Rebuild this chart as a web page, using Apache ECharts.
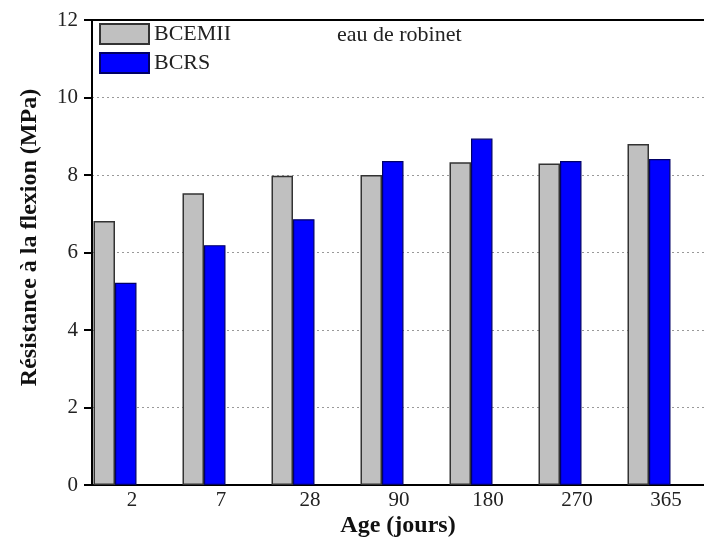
<!DOCTYPE html>
<html>
<head>
<meta charset="utf-8">
<script src="https://cdn.jsdelivr.net/npm/echarts@6/dist/echarts.min.js"></script>
<style>
html, body { margin: 0; padding: 0; background: #fff; }
#chart { width: 704px; height: 545px; }
</style>
</head>
<body>
<div id="chart"></div>
<script>
// donnees
var ages = ['2', '7', '28', '90', '180', '270', '365'];
var bcemii = [6.81, 7.53, 7.98, 8.00, 8.33, 8.30, 8.80];
var bcrs = [5.22, 6.19, 6.86, 8.36, 8.94, 8.36, 8.41];
var yMin = 0, yMax = 12, yStep = 2;

var serif = '"Liberation Serif", "Times New Roman", serif';
var chart = echarts.init(document.getElementById('chart'));

var option = {
    animation: false,
    title: {
        text: 'eau de robinet',
        left: 332,
        top: 19,
        textStyle: { fontFamily: serif, fontSize: 22, fontWeight: 'normal', color: '#222' }
    },
    legend: {
        orient: 'vertical',
        left: 94,
        top: 18,
        itemWidth: 49,
        itemHeight: 20,
        itemGap: 7,
        icon: 'rect',
        textStyle: { fontFamily: serif, fontSize: 22, color: '#222' },
        data: ['BCEMII', 'BCRS']
    },
    grid: [
        // grille des barres (bandes de categories)
        { left: 70.5, width: 623, top: 20, bottom: 60 },
        // cadre : axes, graduations, quadrillage
        { left: 92, right: 0, top: 20, bottom: 60 }
    ],
    xAxis: [
        {
            gridIndex: 0,
            type: 'category',
            data: ages,
            axisLine: { show: false },
            axisTick: { show: false },
            axisLabel: {
                fontFamily: serif, fontSize: 21, color: '#222',
                margin: 5, padding: [0, 0, 0, 34]
            }
        },
        {
            gridIndex: 1,
            type: 'value',
            min: 0, max: 1,
            axisLine: { lineStyle: { color: '#000', width: 2 } },
            axisTick: { show: false },
            axisLabel: { show: false },
            splitLine: { show: false },
            name: 'Age (jours)',
            nameLocation: 'middle',
            nameGap: 29,
            nameTextStyle: { fontFamily: serif, fontSize: 24, fontWeight: 'bold', color: '#111' }
        },
        {
            gridIndex: 1,
            type: 'value',
            position: 'top',
            min: 0, max: 1,
            axisLine: { lineStyle: { color: '#000', width: 2 } },
            axisTick: { show: false },
            axisLabel: { show: false },
            splitLine: { show: false }
        }
    ],
    yAxis: [
        { gridIndex: 0, type: 'value', min: yMin, max: yMax, interval: yStep, show: false },
        {
            gridIndex: 1,
            type: 'value',
            min: yMin, max: yMax, interval: yStep,
            axisLine: { show: true, lineStyle: { color: '#000', width: 2 } },
            axisTick: { show: true, length: 8, lineStyle: { color: '#000', width: 2 } },
            axisLabel: { fontFamily: serif, fontSize: 21, color: '#222', margin: 14 },
            splitLine: { lineStyle: { color: '#999', type: [2, 3], width: 1 } },
            name: 'Résistance à la flexion (MPa)',
            nameLocation: 'middle',
            nameGap: 50,
            nameTextStyle: {
                fontFamily: serif, fontSize: 24, fontWeight: 'bold', color: '#111',
                padding: [0, 0, 0, 30]
            }
        }
    ],
    series: [
        {
            name: 'BCEMII',
            type: 'bar',
            xAxisIndex: 0,
            yAxisIndex: 0,
            barWidth: 21.5,
            barGap: '0%',
            itemStyle: { color: '#c0c0c0', borderColor: '#333', borderWidth: 1.5 },
            data: bcemii
        },
        {
            name: 'BCRS',
            type: 'bar',
            xAxisIndex: 0,
            yAxisIndex: 0,
            barWidth: 21.5,
            barGap: '0%',
            itemStyle: { color: '#0000ff', borderColor: '#000066', borderWidth: 1.2 },
            data: bcrs
        }
    ]
};

chart.setOption(option);
</script>
</body>
</html>
